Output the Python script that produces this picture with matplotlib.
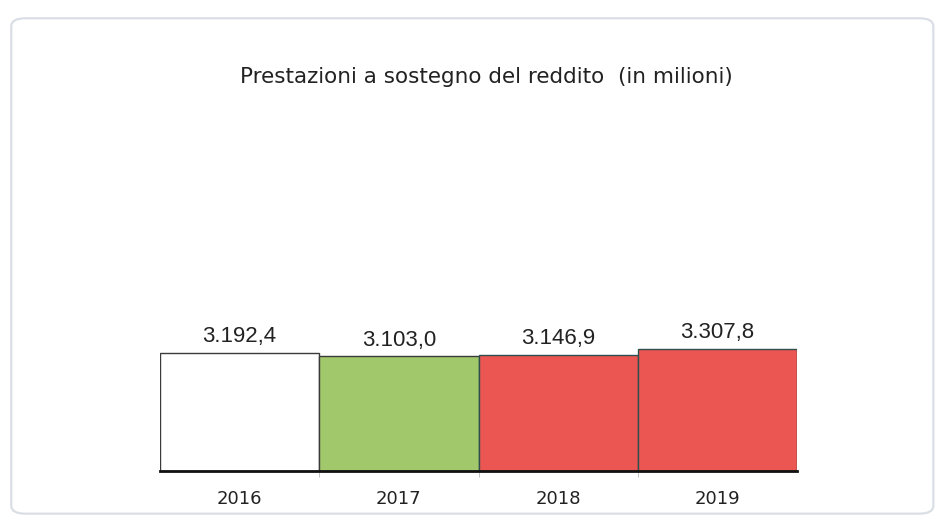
import matplotlib
matplotlib.use("Agg")
import matplotlib.pyplot as plt
from matplotlib.patches import FancyBboxPatch

years = ["2016", "2017", "2018", "2019"]
values = [3192.4, 3103.0, 3146.9, 3307.8]
labels = ["3.192,4", "3.103,0", "3.146,9", "3.307,8"]
fill_colors = ["#ffffff", "#a2c86c", "#ec5652", "#ec5652"]
edge_colors = ["#3a3a3a", "#3a3a3a", "#2f4f4f", "#2f4f4f"]

fig = plt.figure(figsize=(9.39, 5.22), dpi=100)
fig.patch.set_facecolor("white")

# rounded panel border
panel = FancyBboxPatch((0.012, 0.016), 0.982, 0.949,
                       boxstyle="round,pad=0,rounding_size=0.015",
                       transform=fig.transFigure, facecolor="none",
                       edgecolor="#dadee5", linewidth=1.6, zorder=-1)
fig.patches.append(panel)

ax = fig.add_axes([0.1704, 0.0977, 0.6784, 0.6523])
ax.set_facecolor("none")
x = range(len(years))
ax.bar(x, values, width=1.0, color=fill_colors, edgecolor=edge_colors,
       linewidth=1.0, zorder=2)

for xi, v, lab in zip(x, values, labels):
    ax.annotate(lab, (xi, v), xytext=(0, 4), textcoords="offset points",
                ha="center", va="bottom", fontsize=16,
                family="Liberation Sans", color="#222222")

ax.set_xlim(-0.5, 3.5)
ax.set_ylim(0, 9200)
ax.set_yticks([])
ax.set_xticks(list(x))
ax.set_xticklabels(years, fontsize=13, family="DejaVu Sans", color="#222222")
ax.tick_params(axis="x", length=0, pad=14)
ax.set_xticks([0.5, 1.5, 2.5], minor=True)
ax.tick_params(axis="x", which="minor", length=4, color="#bbbbbb")
for s in ["top", "right", "left"]:
    ax.spines[s].set_visible(False)
ax.spines["bottom"].set_linewidth(2.0)
ax.spines["bottom"].set_color("#111111")
ax.spines["bottom"].set_zorder(3)

fig.text(0.518, 0.852, "Prestazioni a sostegno del reddito  (in milioni)",
         ha="center", va="center", fontsize=15.5, family="DejaVu Sans",
         color="#222222")

fig.savefig("out.png", dpi=100)
